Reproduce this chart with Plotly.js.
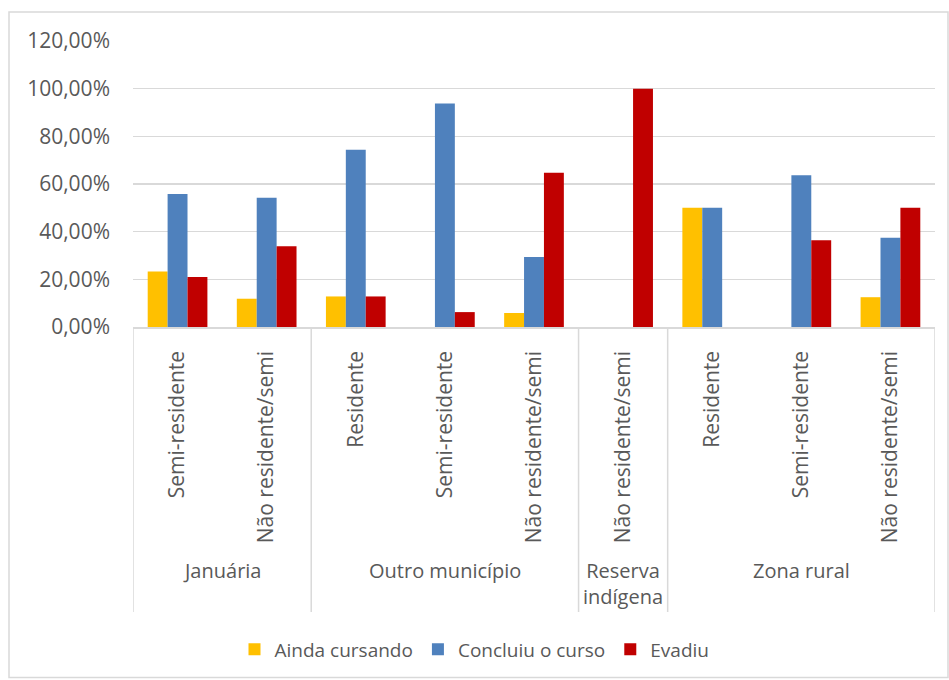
<!DOCTYPE html>
<html>
<head>
<meta charset="utf-8">
<script src="https://cdn.plot.ly/plotly-3.0.1.min.js"></script>
<style>
html,body{margin:0;padding:0;background:#fff;}
#chart{width:949px;height:680px;}
</style>
</head>
<body>
<div id="chart"></div>
<script>
const groups = ["Januária","Januária","Outro município","Outro município","Outro município","Reserva<br>indígena","Zona rural","Zona rural","Zona rural"];
const subcats = ["Semi-residente","Não residente/semi","Residente","Semi-residente","Não residente/semi","Não residente/semi","Residente","Semi-residente","Não residente/semi"];
const seriesNames = ["Ainda cursando","Concluiu o curso","Evadiu"];
const aindaCursando = [0.2326,0.1186,0.1282,0,0.0588,0,0.50,0,0.125];
const concluiuCurso = [0.5581,0.5424,0.7436,0.9375,0.2941,0,0.50,0.6364,0.375];
const evadiu = [0.2093,0.3390,0.1282,0.0625,0.6471,1.0,0,0.3636,0.50];
const colors = ["#FFC000","#4F81BD","#C00000"];
const yTickVals = [0,0.2,0.4,0.6,0.8,1.0,1.2];
const yTickText = ["0,00%","20,00%","40,00%","60,00%","80,00%","100,00%","120,00%"];

const xPos = subcats.map((_, i) => i);
const vals = [aindaCursando, concluiuCurso, evadiu];
const traces = vals.map((v, i) => ({
  type: 'bar',
  x: xPos,
  y: v,
  name: seriesNames[i],
  marker: {color: colors[i]},
  hoverinfo: 'skip'
}));

// group spans derived from the groups array
const spans = [];
groups.forEach((g, i) => {
  if (!spans.length || spans[spans.length - 1].name !== g) spans.push({name: g, start: i, end: i});
  else spans[spans.length - 1].end = i;
});

const grey = '#D9D9D9';
const txt = '#595959';
const fam = '"Open Sans", "Noto Sans", sans-serif';

const plotH = 286.5;
const annY = (327.5 - 556) / plotH;
const divY = (327.5 - 613) / plotH;

const annotations = spans.map(s => ({
  text: s.name, xref: 'x', yref: 'paper', x: (s.start + s.end) / 2, y: annY,
  xanchor: 'center', yanchor: 'top', showarrow: false,
  font: {family: fam, size: 20, color: txt}
}));

const bounds = [spans[0].start - 0.5].concat(spans.map(s => s.end + 0.5));
const shapes = bounds.map(b => ({
  type: 'line', xref: 'x', yref: 'paper', x0: b, x1: b, y0: 0, y1: divY,
  line: {color: grey, width: 1.5}
}));
shapes.push({type: 'rect', xref: 'paper', yref: 'paper', x0: -124 / 802, x1: 815 / 802,
  y0: -351 / plotH, y1: 315.5 / plotH, line: {color: grey, width: 1.5},
  fillcolor: 'rgba(0,0,0,0)', layer: 'below'});

const layout = {
  width: 949, height: 680,
  margin: {l: 133, r: 14, t: 41, b: 352.5},
  paper_bgcolor: '#fff', plot_bgcolor: '#fff',
  font: {family: fam, color: txt, size: 19},
  barmode: 'group',
  bargap: 0.33,
  bargroupgap: 0,
  showlegend: true,
  legend: {orientation: 'h', x: 0.5, xanchor: 'center', xref: 'container', y: 0.045, yref: 'container',
    yanchor: 'middle', font: {family: fam, size: 19, color: txt}, traceorder: 'normal'},
  xaxis: {range: [-0.5, subcats.length - 0.5], tickmode: 'array', tickvals: xPos, ticktext: subcats,
    tickangle: -90, showline: true, linecolor: grey, linewidth: 1.5, showgrid: false, zeroline: false,
    ticks: '', ticklabelstandoff: 14, tickfont: {family: fam, size: 21, color: txt}},
  yaxis: {range: [0, 1.2], tickmode: 'array', tickvals: yTickVals, ticktext: yTickText, showgrid: true,
    gridcolor: grey, gridwidth: 1.5, zeroline: false, showline: false, ticks: '',
    ticklabelstandoff: 22, tickfont: {family: fam, size: 21, color: txt}},
  annotations: annotations,
  shapes: shapes
};

Plotly.newPlot('chart', traces, layout, {staticPlot: true});
</script>
</body>
</html>
